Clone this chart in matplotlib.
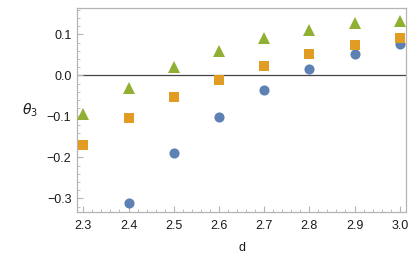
import matplotlib.pyplot as plt
import numpy as np
from matplotlib.ticker import MultipleLocator

d = [2.3, 2.4, 2.5, 2.6, 2.7, 2.8, 2.9, 3.0]
theta_blue = [-0.46, -0.310, -0.190, -0.101, -0.036, 0.015, 0.051, 0.076]
theta_orange = [-0.170, -0.105, -0.053, -0.011, 0.024, 0.053, 0.075, 0.090]
theta_green = [-0.095, -0.030, 0.021, 0.060, 0.090, 0.110, 0.127, 0.133]

plt.rcParams['font.family'] = ['Liberation Sans', 'DejaVu Sans']

fig = plt.figure(figsize=(4.15, 2.6), dpi=100)
ax = fig.add_axes([0.1855, 0.1846, 0.794, 0.7844])

ax.axhline(0, color='#444444', linewidth=0.9, zorder=1)

ax.plot(d, theta_blue, 'o', color='#5E81B5', markersize=7.3, markeredgewidth=0, zorder=3)
ax.plot(d, theta_orange, 's', color='#E19C24', markersize=6.8, markeredgewidth=0, zorder=3)
ax.plot(d, theta_green, '^', color='#8FB032', markersize=8.2, markeredgewidth=0, zorder=3)

ax.set_xlim(2.286, 3.015)
ax.set_ylim(-0.333, 0.164)

ax.xaxis.set_major_locator(MultipleLocator(0.1))
ax.xaxis.set_minor_locator(MultipleLocator(0.02))
ax.yaxis.set_major_locator(MultipleLocator(0.1))
ax.yaxis.set_minor_locator(MultipleLocator(0.02))
ax.xaxis.set_major_formatter(plt.FuncFormatter(lambda v, p: f'{v:.1f}'))
ax.yaxis.set_major_formatter(plt.FuncFormatter(lambda v, p: f'{v:.1f}'.replace('-', '\u2212')))

for s in ax.spines.values():
    s.set_color('#b4b4b4')
    s.set_linewidth(0.9)

ax.tick_params(which='both', direction='in', top=False, right=False,
               color='#b4b4b4', labelsize=9, labelcolor='#1a1a1a')
ax.tick_params(which='major', length=4, width=0.8)
ax.tick_params(which='minor', length=2.2, width=0.6)
ax.tick_params(axis='x', pad=6)
ax.tick_params(axis='y', pad=4)

ax.set_xlabel('d', fontsize=9, color='#1a1a1a', labelpad=7)
ax.set_ylabel(r'$\theta_3$', fontsize=10, color='#1a1a1a', rotation=0, labelpad=12, va='center')

fig.savefig('out.png', dpi=100)
